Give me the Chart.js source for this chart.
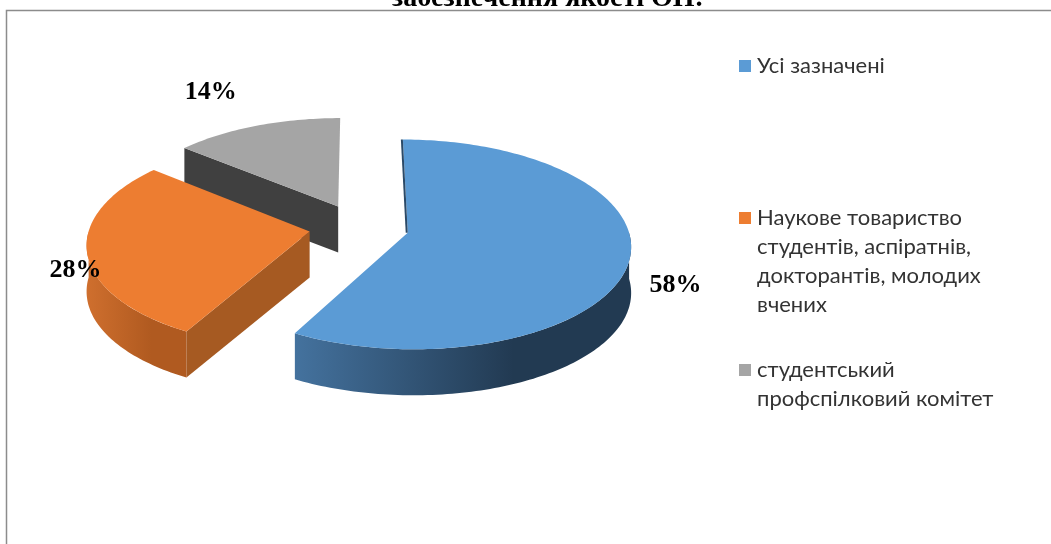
<!DOCTYPE html>
<html lang="uk">
<head>
<meta charset="utf-8">
<title>Органи студентського самоврядування</title>
<script src="https://cdn.jsdelivr.net/npm/chart.js@4.4.1/dist/chart.umd.min.js"></script>
<style>
  html, body { margin: 0; padding: 0; background: #fff; overflow: hidden; }
  #chart { display: block; }
</style>
</head>
<body>
<canvas id="chart" width="1051" height="544"></canvas>
<script>
const titleText = 'забезпечення якості ОП:';

// legend entries, one array of lines per category
const categories = [
    ['Усі зазначені'],
    ['Наукове товариство', 'студентів, аспіратнів,', 'докторантів, молодих', 'вчених'],
    ['студентський', 'профспілковий комітет']
];
const shares = [58, 28, 14];

// slice colours: top face, curved wall (light -> dark), cut face
const topColors = ['#5b9bd5', '#ed7d31', '#a5a5a5'];
const wallLight = ['#44729e', '#cf6f2e', '#8a8a8a'];
const wallDark = ['#223a52', '#b05a20', '#5a5a5a'];
const faceColors = ['#2b4a68', '#a65a22', '#404040'];

// pie geometry
const TILT = 0.465;     // vertical squash of the disc
const VIEW_DIST = 2000; // perspective: nearer parts come out bigger
const DEPTH = 46;       // thickness in px
const EXPLODE = 50;     // how far every slice is pulled out
const RADIUS = 220;
const CENTER = { x: 359, y: 227 };

// label placement: radial factor per slice and how far down the side it sits
const labelRadius = [1.2, 1.05, 1.65];
const labelDrop = [0.45, 0.4, 0.25];

// legend layout
const legendX = 739;
const legendBaselines = [73, 225, 377];
const legendLineHeight = 29;

const W = 1051, H = 544;

// flat pie point (angle a, distance rad from the slice tip) -> screen, z pushes down
function project(arc, a, rad, z) {
    const mid = (arc.startAngle + arc.endAngle) / 2;
    const u = EXPLODE * Math.cos(mid) + rad * Math.cos(a);
    const v = EXPLODE * Math.sin(mid) + rad * Math.sin(a);
    const g = VIEW_DIST / (VIEW_DIST - v);
    return { x: arc.x + u * g, y: arc.y + TILT * v * g + z };
}

function rimPoints(arc, a0, a1, z) {
    const pts = [];
    const n = Math.max(2, Math.ceil((a1 - a0) / 0.02));
    for (let k = 0; k <= n; k++) {
        pts.push(project(arc, a0 + (a1 - a0) * k / n, arc.outerRadius, z));
    }
    return pts;
}

const pie3d = {
    id: 'pie3d',
    beforeDatasetsDraw(chart) {
        const ctx = chart.ctx;
        const arcs = chart.getDatasetMeta(0).data;
        // back slices first
        [2, 1, 0].forEach(i => {
            const arc = arcs[i];
            const mid = (arc.startAngle + arc.endAngle) / 2;
            const tip = project(arc, mid, 0, 0);

            // curved wall, only the front half is visible
            const a0 = Math.max(arc.startAngle, 0);
            const a1 = Math.min(arc.endAngle, Math.PI);
            if (a1 > a0) {
                const top = rimPoints(arc, a0, a1, 0);
                const bottom = rimPoints(arc, a0, a1, DEPTH).reverse();
                const xs = top.map(p => p.x);
                const grad = ctx.createLinearGradient(Math.min(...xs), 0, Math.max(...xs), 0);
                grad.addColorStop(0, wallLight[i]);
                grad.addColorStop(0.65, wallDark[i]);
                grad.addColorStop(1, wallDark[i]);
                ctx.beginPath();
                top.concat(bottom).forEach((p, k) => k ? ctx.lineTo(p.x, p.y) : ctx.moveTo(p.x, p.y));
                ctx.closePath();
                ctx.fillStyle = grad;
                ctx.fill();
            }

            // flat cut faces that turn toward the viewer
            [[arc.startAngle, arc.startAngle - Math.PI / 2], [arc.endAngle, arc.endAngle + Math.PI / 2]].forEach(([a, n]) => {
                if (Math.sin(n) < 0.05) return;
                const p = project(arc, a, arc.outerRadius, 0);
                ctx.beginPath();
                ctx.moveTo(tip.x, tip.y);
                ctx.lineTo(p.x, p.y);
                ctx.lineTo(p.x, p.y + DEPTH);
                ctx.lineTo(tip.x, tip.y + DEPTH);
                ctx.closePath();
                ctx.fillStyle = faceColors[i];
                ctx.fill();
            });

            // top face from the arc element's own angles and radius
            const rim = rimPoints(arc, arc.startAngle, arc.endAngle, 0);
            ctx.beginPath();
            ctx.moveTo(tip.x, tip.y);
            rim.forEach(p => ctx.lineTo(p.x, p.y));
            ctx.closePath();
            ctx.fillStyle = arc.options.backgroundColor;
            ctx.fill();

            // thin edge where the slice starts at 12 o'clock
            if (Math.abs(Math.cos(arc.startAngle)) < 0.01) {
                ctx.beginPath();
                ctx.moveTo(tip.x - 1, tip.y);
                ctx.lineTo(rim[0].x - 1, rim[0].y);
                ctx.strokeStyle = faceColors[i];
                ctx.lineWidth = 2;
                ctx.stroke();
            }
        });
        return false;
    },
    afterDraw(chart) {
        const ctx = chart.ctx;
        const arcs = chart.getDatasetMeta(0).data;

        // percentage labels
        ctx.save();
        ctx.font = 'bold 26px "Liberation Serif", "Times New Roman", serif';
        ctx.fillStyle = '#000';
        ctx.textAlign = 'center';
        ctx.textBaseline = 'middle';
        arcs.forEach((arc, i) => {
            const mid = (arc.startAngle + arc.endAngle) / 2;
            const p = project(arc, mid, arc.outerRadius * labelRadius[i], DEPTH * labelDrop[i]);
            ctx.fillText(shares[i] + '%', p.x, p.y);
        });
        ctx.restore();

        // legend
        ctx.save();
        ctx.font = '22px Lato, "Open Sans", sans-serif';
        ctx.textBaseline = 'alphabetic';
        ctx.textAlign = 'left';
        categories.forEach((lines, i) => {
            const base = legendBaselines[i];
            ctx.fillStyle = topColors[i];
            ctx.fillRect(legendX, base - 13, 12, 12);
            ctx.fillStyle = '#333';
            lines.forEach((line, j) => {
                ctx.fillText(line, legendX + 18, base + j * legendLineHeight);
            });
        });
        ctx.restore();

        // frame around the chart
        ctx.save();
        ctx.strokeStyle = '#8c8c8c';
        ctx.lineWidth = 1.5;
        ctx.strokeRect(6.5, 10.5, W + 20, H + 20);
        ctx.restore();

        // caption above the frame
        ctx.save();
        ctx.font = 'bold 28px "Liberation Serif", "Times New Roman", serif';
        ctx.fillStyle = '#000';
        ctx.textAlign = 'center';
        ctx.textBaseline = 'alphabetic';
        ctx.fillText(titleText, 548, 6);
        ctx.restore();
    }
};

new Chart(document.getElementById('chart'), {
    type: 'pie',
    data: {
        labels: categories.map(lines => lines.join(' ')),
        datasets: [{
            data: shares,
            backgroundColor: topColors,
            borderWidth: 0
        }]
    },
    options: {
        responsive: false,
        animation: false,
        events: [],
        radius: RADIUS,
        layout: {
            padding: { left: 0, top: 0, right: W - 2 * CENTER.x, bottom: H - 2 * CENTER.y }
        },
        plugins: {
            legend: { display: false },
            tooltip: { enabled: false },
            title: { display: false }
        }
    },
    plugins: [pie3d]
});
</script>
</body>
</html>
